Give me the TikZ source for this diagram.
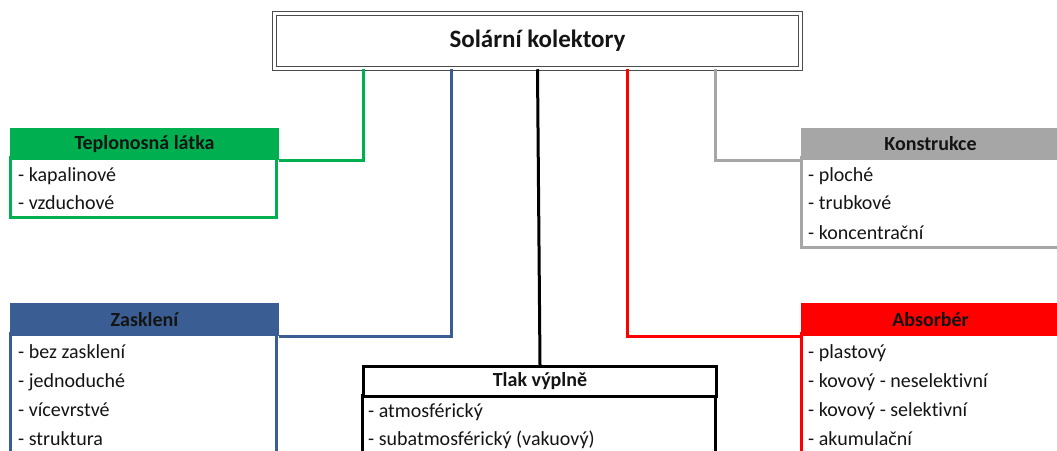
\documentclass[tikz,border=0pt]{standalone}
\usepackage{fontspec}
\setmainfont[Ligatures=NoCommon]{Carlito}
\usetikzlibrary{calc}
\definecolor{cgreen}{HTML}{00B050}
\definecolor{cblue}{HTML}{3A5E93}
\definecolor{cred}{HTML}{FF0000}
\definecolor{cgray}{HTML}{A6A6A6}
\definecolor{ctext}{HTML}{141414}
\begin{document}
\begin{tikzpicture}[x=1pt,y=-1pt,
  hdr/.style={draw=#1, fill=#1, line width=3pt, minimum width=266pt, minimum height=29pt,
    font=\fontsize{20}{22}\selectfont\bfseries, text=ctext, inner sep=0pt, anchor=north west},
  frame/.style={draw=#1, line width=3pt},
  item/.style={font=\fontsize{20}{22}\selectfont, text=ctext, anchor=base west, inner sep=0pt},
  conn/.style={draw=#1, line width=3pt}]
\useasboundingbox (0,0) rectangle (1057,450);
\clip (0,0) rectangle (1057,450);

% title
\node[draw=black!70, double=white, double distance=2.2pt, line width=1.5pt,
      minimum width=526pt, minimum height=55pt, inner sep=0pt,
      font=\fontsize{25}{28}\selectfont\bfseries, text=ctext] (title) at (537.5,41) {Solární kolektory};

% Teplonosna latka
\draw[frame=cgreen] (10,157) rectangle (276,217);
\node[hdr=cgreen] (th) at (10,128) {Teplonosná látka};
\node[item] (t1) at (18,181) {- kapalinové};
\node[item] (t2) at (18,209) {- vzduchové};

% Konstrukce
\draw[frame=cgray] (801,157) rectangle (1075,247);
\node[hdr=cgray, minimum width=274pt] (kh) at (801,128) {\hspace*{-18pt}Konstrukce};
\node[item] (k1) at (808,181) {- ploché};
\node[item] (k2) at (808,209) {- trubkové};
\node[item] (k3) at (808,239) {- koncentrační};

% Zaskleni
\draw[frame=cblue] (10,333) rectangle (276,470);
\node[hdr=cblue, minimum height=30pt] (zh) at (10,303) {Zasklení};
\node[item] (z1) at (18,358) {- bez zasklení};
\node[item] (z2) at (18,387) {- jednoduché};
\node[item] (z3) at (18,416) {- vícevrstvé};
\node[item] (z4) at (18,445) {- struktura};

% Absorber
\draw[frame=cred] (801,333) rectangle (1075,470);
\node[hdr=cred, minimum width=274pt, minimum height=30pt] (ah) at (801,303) {\hspace*{-18pt}Absorbér};
\node[item] (a1) at (808,358) {- plastový};
\node[item] (a2) at (808,387) {- kovový - neselektivní};
\node[item] (a3) at (808,416) {- kovový - selektivní};
\node[item] (a4) at (808,445) {- akumulační};

% Tlak vyplne
\draw[frame=black] (362,395) rectangle (715,470);
\node[hdr=black, fill=white, minimum width=353pt, minimum height=30pt] (lh) at (362,365) {Tlak výplně};
\node[item] (l1) at (368,417) {- atmosférický};
\node[item] (l2) at (368,445) {- subatmosférický (vakuový)};

% connectors
\draw[conn=cgreen] ($(title.south west)+(90,0)$) |- (th.south east);
\draw[conn=cblue]  ($(title.south west)+(178,0)$) |- (zh.south east);
\draw[conn=black]  (title.south) -- (lh.north);
\draw[conn=cred]   ($(title.south west)+(354,0)$) |- (ah.south west);
\draw[conn=cgray]  ($(title.south west)+(442,0)$) |- (kh.south west);
\end{tikzpicture}
\end{document}
